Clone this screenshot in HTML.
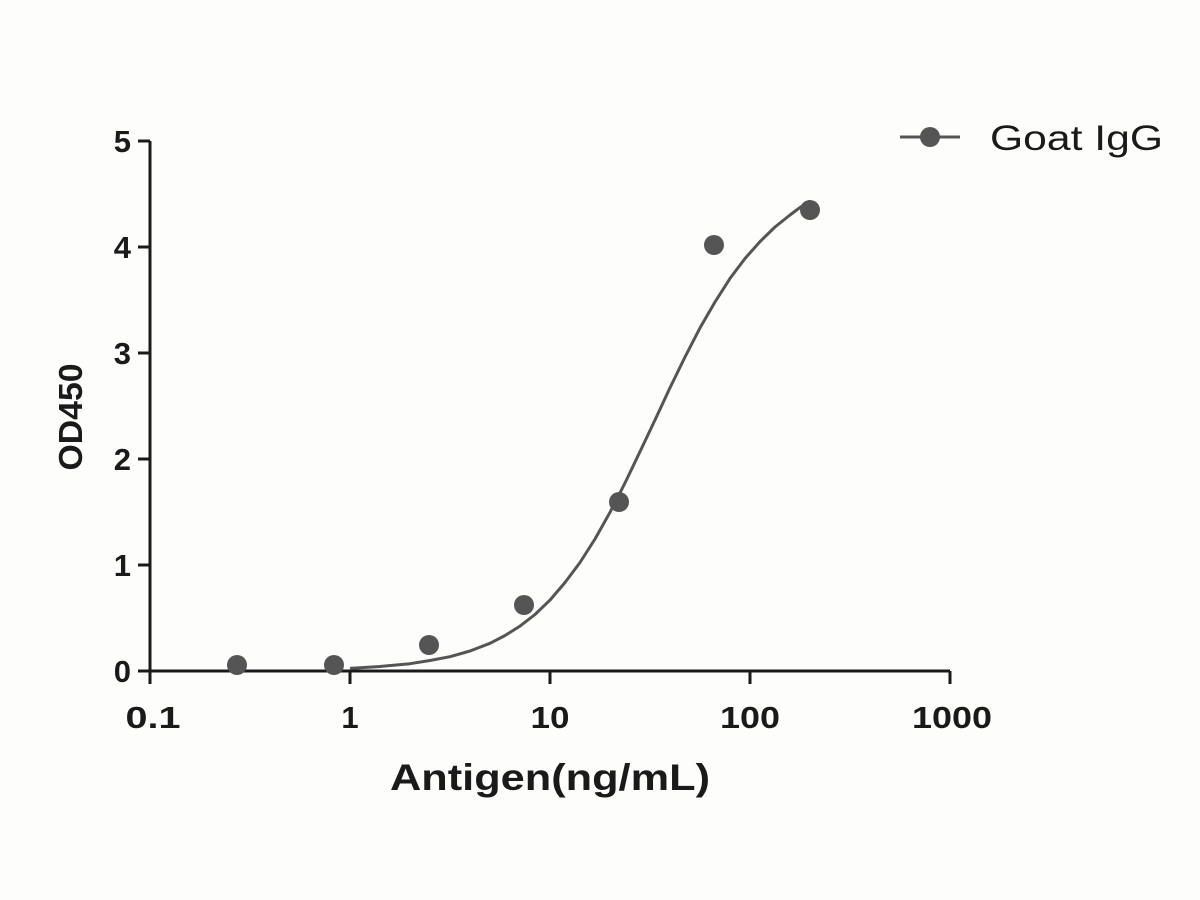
<!DOCTYPE html>
<html><head><style>
html,body{margin:0;padding:0;background:#fdfdfb;}
svg{display:block;font-family:"Liberation Sans",Arial,sans-serif;}
</style></head><body>
<svg width="1200" height="900" viewBox="0 0 1200 900" xmlns="http://www.w3.org/2000/svg">
<rect width="1200" height="900" fill="#fdfdfb"/>
<g stroke="#1a1a1a" stroke-width="3" fill="none">
<line x1="150" y1="141" x2="150" y2="672"/>
<line x1="149" y1="671" x2="950" y2="671"/>
<line x1="138" y1="141" x2="150" y2="141"/>
<line x1="138" y1="247" x2="150" y2="247"/>
<line x1="138" y1="353" x2="150" y2="353"/>
<line x1="138" y1="459" x2="150" y2="459"/>
<line x1="138" y1="565" x2="150" y2="565"/>
<line x1="138" y1="671" x2="150" y2="671"/>
<line x1="150" y1="671" x2="150" y2="684"/>
<line x1="350" y1="671" x2="350" y2="684"/>
<line x1="550" y1="671" x2="550" y2="684"/>
<line x1="750" y1="671" x2="750" y2="684"/>
<line x1="950" y1="671" x2="950" y2="684"/>
</g>
<g font-size="31" font-weight="bold" fill="#1a1a1a" text-anchor="end">
<text x="131" y="152">5</text><text x="131" y="258">4</text><text x="131" y="364">3</text>
<text x="131" y="470">2</text><text x="131" y="576">1</text><text x="131" y="682">0</text>
</g>
<g font-size="31" font-weight="bold" fill="#1a1a1a" text-anchor="middle">
<text x="153" y="728" textLength="55" lengthAdjust="spacingAndGlyphs">0.1</text>
<text x="350" y="728">1</text>
<text x="550" y="728" textLength="39" lengthAdjust="spacingAndGlyphs">10</text>
<text x="750" y="728" textLength="60" lengthAdjust="spacingAndGlyphs">100</text>
<text x="952" y="728" textLength="80" lengthAdjust="spacingAndGlyphs">1000</text>
</g>
<text x="550" y="790" font-size="37" font-weight="bold" text-anchor="middle" fill="#1a1a1a" textLength="320" lengthAdjust="spacingAndGlyphs">Antigen(ng/mL)</text>
<text transform="translate(82,417) rotate(-90)" font-size="33" font-weight="bold" text-anchor="middle" fill="#1a1a1a" textLength="107" lengthAdjust="spacingAndGlyphs">OD450</text>
<path d="M350,668.4 L380,666.5 L410,663.7 L430,660.5 L450,656.7 L470,651 L490,643.3 L505,635.5 L520,626.1 L535,614.5 L550,600.1 L565,582.5 L580,562.5 L595,539 L610,512.3 L625,483 L640,451.6 L655,420 L670,387.8 L685,357 L700,327.9 L715,302 L730,278.4 L745,258.5 L760,241.6 L775,227 L790,215 L800,207.5 L810,201" fill="none" stroke="#555" stroke-width="3" stroke-linejoin="round"/>
<g fill="#555">
<circle cx="237" cy="665" r="10"/><circle cx="334" cy="665" r="10"/><circle cx="429" cy="645" r="10"/>
<circle cx="524" cy="605" r="10"/><circle cx="619" cy="502" r="10"/><circle cx="714" cy="245" r="10"/>
<circle cx="810" cy="210" r="10"/>
<circle cx="930" cy="137" r="10"/>
</g>
<line x1="900" y1="137" x2="960" y2="137" stroke="#555" stroke-width="3"/>
<text x="990" y="150" font-size="35" fill="#1a1a1a" textLength="173" lengthAdjust="spacingAndGlyphs">Goat IgG</text>
</svg>
</body></html>
